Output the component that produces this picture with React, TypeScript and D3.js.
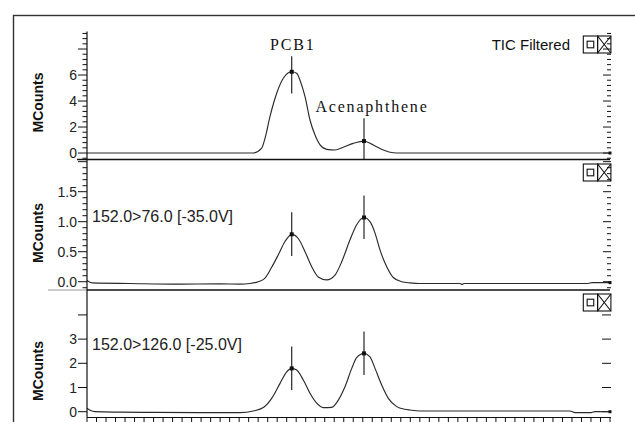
import React from "react";
import * as d3 from "d3";

// ---------- DATA ----------
// retention-time axis units (one bottom tick per unit)
const timeDomain: [number, number] = [0, 55];

// TIC Filtered (MCounts)
const ticSeries: [number, number][] = [
  [0, 0.0], [17.46, 0.0], [18.37, 0.38], [18.72, 1.13], [19.24, 2.8], [19.95, 4.6],
  [20.64, 5.75], [21.17, 6.18], [21.53, 6.25], [22.05, 6.13], [22.4, 5.6], [22.93, 4.33],
  [23.45, 2.54], [23.98, 1.38], [24.51, 0.62], [25.21, 0.28], [26.08, 0.23], [26.95, 0.44],
  [28.0, 0.74], [29.13, 0.92], [30.11, 0.62], [31.16, 0.23], [32.21, 0.02], [32.92, 0.0],
  [55, 0.0],
];

// 152.0>76.0 [-35.0V]
const mrm76Series: [number, number][] = [
  [0, 0.02], [0.53, -0.02], [4.5, -0.03], [9.8, -0.04], [14.0, -0.035], [16.09, -0.04],
  [17.14, -0.03], [18.01, 0.0], [18.72, 0.06], [19.42, 0.24], [20.12, 0.45], [20.82, 0.67],
  [21.53, 0.79], [22.22, 0.72], [22.93, 0.5], [23.63, 0.25], [24.32, 0.08], [25.21, 0.03],
  [26.08, 0.11], [26.78, 0.33], [27.66, 0.7], [28.36, 0.95], [29.13, 1.07], [29.76, 1.0],
  [30.29, 0.81], [30.81, 0.53], [31.52, 0.25], [32.21, 0.07], [33.09, 0.0], [33.97, -0.02],
  [35.02, -0.03], [39.23, -0.03], [39.44, -0.045], [39.65, -0.03], [52.69, -0.03],
  [53.11, -0.015], [55, -0.015],
];

// 152.0>126.0 [-25.0V]
const mrm126Series: [number, number][] = [
  [0, 0.14], [0.32, 0.06], [0.84, 0.0], [3.47, -0.02], [6.63, -0.03], [11.88, -0.04],
  [16.09, -0.04], [17.49, 0.03], [18.54, 0.17], [19.42, 0.55], [20.3, 1.17], [21.0, 1.65],
  [21.53, 1.79], [22.05, 1.72], [22.75, 1.31], [23.45, 0.76], [24.16, 0.35], [24.85, 0.17],
  [25.73, 0.18], [26.43, 0.48], [27.13, 1.03], [27.84, 1.79], [28.36, 2.23], [29.13, 2.41],
  [29.76, 2.27], [30.29, 1.79], [30.99, 1.1], [31.69, 0.55], [32.57, 0.21], [33.44, 0.1],
  [33.97, 0.07], [35.02, 0.03], [50.79, 0.03], [51.32, -0.04], [52.9, -0.04], [53.42, 0.0],
  [55, 0.0],
];

const peakNames = ["PCB1", "Acenaphthene"];
const peakTimes = [21.53, 29.13];
const ticPeakValues = [6.25, 0.92];
const mrm76PeakValues = [0.79, 1.07];
const mrm126PeakValues = [1.79, 2.41];

const panelTitles = ["TIC Filtered", "152.0>76.0 [-35.0V]", "152.0>126.0 [-25.0V]"];
const yAxisTitle = "MCounts";

const ticYDomain: [number, number] = [-0.46, 9.31];
const mrm76YDomain: [number, number] = [-0.138, 2.028];
const mrm126YDomain: [number, number] = [-0.24, 5.03];

const ticMajorTicks = [0, 2, 4, 6, 8];
const ticTickLabels = ["0", "2", "4", "6"];
const mrm76MajorTicks = [0, 0.5, 1.0, 1.5, 2.0];
const mrm76TickLabels = ["0.0", "0.5", "1.0", "1.5"];
const mrm126MajorTicks = [0, 1, 2, 3, 4];
const mrm126TickLabels = ["0", "1", "2", "3"];

const ticMinorStep = 0.4;
const mrm76MinorStep = 0.1;

// ---------- LAYOUT ----------
const W = 635;
const H = 422;
const plotLeft = 87;
const plotRight = 610;
const axisBottom = 417.5;

const panels = [
  { top: 32, bottom: 159, domain: ticYDomain, series: ticSeries, peaks: ticPeakValues,
    majors: ticMajorTicks, labels: ticTickLabels, minorStep: ticMinorStep,
    titleX: 37, titleY: 102.5, rightMajorLen: 7 },
  { top: 160, bottom: 290, domain: mrm76YDomain, series: mrm76Series, peaks: mrm76PeakValues,
    majors: mrm76MajorTicks, labels: mrm76TickLabels, minorStep: mrm76MinorStep,
    titleX: 37, titleY: 233, rightMajorLen: 7 },
  { top: 290, bottom: axisBottom, domain: mrm126YDomain, series: mrm126Series, peaks: mrm126PeakValues,
    majors: mrm126MajorTicks, labels: mrm126TickLabels, minorStep: 0,
    titleX: 37, titleY: 371, rightMajorLen: 8 },
];

const sans = "'Liberation Sans', Arial, sans-serif";
const serif = "'Liberation Serif', 'Times New Roman', serif";
const ink = "#111";

function minorTicks(domain: [number, number], step: number, majors: number[]): number[] {
  if (!step) return [];
  const out: number[] = [];
  const i0 = Math.ceil(domain[0] / step - 1e-9);
  const i1 = Math.floor(domain[1] / step + 1e-9);
  for (let i = i0; i <= i1; i++) {
    const v = +(i * step).toFixed(6);
    if (!majors.some((m) => Math.abs(m - v) < 1e-6)) out.push(v);
  }
  return out;
}

function Icon({ x, y }: { x: number; y: number }) {
  const w = 14.3;
  const h = 17;
  const s = 6.6;
  return (
    <g fill="none" stroke={ink} strokeWidth={1.1}>
      <rect x={x} y={y} width={w} height={h} />
      <rect x={x + (w - s) / 2} y={y + (h - s) / 2} width={s} height={s} />
      <rect x={x + w} y={y} width={w - 1} height={h} />
      <line x1={x + w} y1={y} x2={x + 2 * w - 1} y2={y + h} />
      <line x1={x + 2 * w - 1} y1={y} x2={x + w} y2={y + h} />
    </g>
  );
}

export default function App() {
  const x = d3.scaleLinear().domain(timeDomain).range([plotLeft, plotRight]);
  const timeTicks = x.ticks(55);

  return (
    <svg
      width={W}
      height={H}
      style={{ position: "absolute", left: 0, top: 0, background: "#fff" }}
      xmlns="http://www.w3.org/2000/svg"
    >
      <rect x={0} y={0} width={W} height={H} fill="#fff" />
      {/* outer frame */}
      <rect x={13.5} y={15.5} width={700} height={500} fill="none" stroke="#333" strokeWidth={1.4} />

      {panels.map((p, pi) => {
        const y = d3.scaleLinear().domain(p.domain).range([p.bottom, p.top]);
        const line = d3
          .line<[number, number]>()
          .x((d) => x(d[0]))
          .y((d) => y(d[1]))
          .curve(d3.curveMonotoneX);
        const minors = minorTicks(p.domain, p.minorStep, p.majors);
        const last = p.series[p.series.length - 1];
        return (
          <g key={pi}>
            {/* left ticks */}
            {p.majors.map((v) => (
              <line key={"M" + v} x1={plotLeft - 9} x2={plotLeft} y1={y(v)} y2={y(v)} stroke={ink} strokeWidth={1} />
            ))}
            {minors.map((v) => (
              <line key={"m" + v} x1={plotLeft - 4.5} x2={plotLeft} y1={y(v)} y2={y(v)} stroke={ink} strokeWidth={1} />
            ))}
            {p.labels.map((t, i) => (
              <text
                key={"l" + t}
                x={plotLeft - 10}
                y={y(p.majors[i])}
                dy="0.36em"
                textAnchor="end"
                fontFamily={sans}
                fontSize={14}
                fill="#222"
              >
                {t}
              </text>
            ))}
            {/* right ticks (inward) */}
            {p.majors.map((v) => (
              <line key={"RM" + v} x1={plotRight - p.rightMajorLen} x2={plotRight + 1} y1={y(v)} y2={y(v)} stroke={ink} strokeWidth={1} />
            ))}
            {minors.map((v) => (
              <line key={"Rm" + v} x1={plotRight - 3} x2={plotRight + 1} y1={y(v)} y2={y(v)} stroke={ink} strokeWidth={1} />
            ))}
            {/* y title */}
            <text
              transform={`translate(${p.titleX + 6},${p.titleY}) rotate(-90)`}
              textAnchor="middle"
              fontFamily={sans}
              fontWeight="bold"
              fontSize={14}
              fill={ink}
            >
              {yAxisTitle}
            </text>
            {/* curve */}
            <path d={line(p.series) || ""} fill="none" stroke="#2a2a2a" strokeWidth={1.15} />
            <rect x={x(last[0]) - 1.5} y={y(last[1]) - 1.5} width={3} height={3} fill={ink} />
            {/* peak markers */}
            {peakTimes.map((t, k) => {
              const px = x(t);
              const py = y(p.peaks[k]);
              let top = py - 22;
              if (pi === 0) {
                const lb = k === 0 ? py - 22 : py - 29.3;
                top = lb + 6.5;
              }
              const bottom = Math.min(py + 21.6, p.bottom);
              return (
                <g key={"pk" + k}>
                  <line x1={px} x2={px} y1={top} y2={bottom} stroke={ink} strokeWidth={1.1} />
                  <rect x={px - 2} y={py - 2} width={4} height={4} fill={ink} />
                  {pi === 0 && (
                    <text
                      x={k === 0 ? px + 1 : px + 8}
                      y={k === 0 ? py - 22 : py - 29.3}
                      textAnchor="middle"
                      fontFamily={serif}
                      fontSize={16}
                      letterSpacing={1.8}
                      fill={ink}
                    >
                      {peakNames[k]}
                    </text>
                  )}
                </g>
              );
            })}
            {/* panel title */}
            {pi === 0 ? (
              <text x={570} y={50} textAnchor="end" fontFamily={sans} fontSize={15} fill={ink}>
                {panelTitles[pi]}
              </text>
            ) : (
              <text x={92} y={pi === 1 ? 221.7 : 350} fontFamily={sans} fontSize={16} fill="#222">
                {panelTitles[pi]}
              </text>
            )}
            <Icon x={583.3} y={p.top + 4} />
          </g>
        );
      })}

      {/* panel separators */}
      <line x1={77} x2={plotRight} y1={159.5} y2={159.5} stroke={ink} strokeWidth={1.6} />
      <line x1={48} x2={plotLeft} y1={290} y2={290} stroke="#999" strokeWidth={1} />
      <line x1={plotLeft} x2={plotRight} y1={290} y2={290} stroke={ink} strokeWidth={1.6} />

      {/* left axis line */}
      <line x1={plotLeft} x2={plotLeft} y1={31.5} y2={axisBottom} stroke={ink} strokeWidth={1.2} />
      {/* bottom axis */}
      <line x1={plotLeft} x2={plotRight + 1} y1={axisBottom} y2={axisBottom} stroke={ink} strokeWidth={1.2} />
      {timeTicks.map((t) => (
        <line key={"xt" + t} x1={x(t)} x2={x(t)} y1={axisBottom} y2={axisBottom + 7} stroke={ink} strokeWidth={1} />
      ))}
    </svg>
  );
}
